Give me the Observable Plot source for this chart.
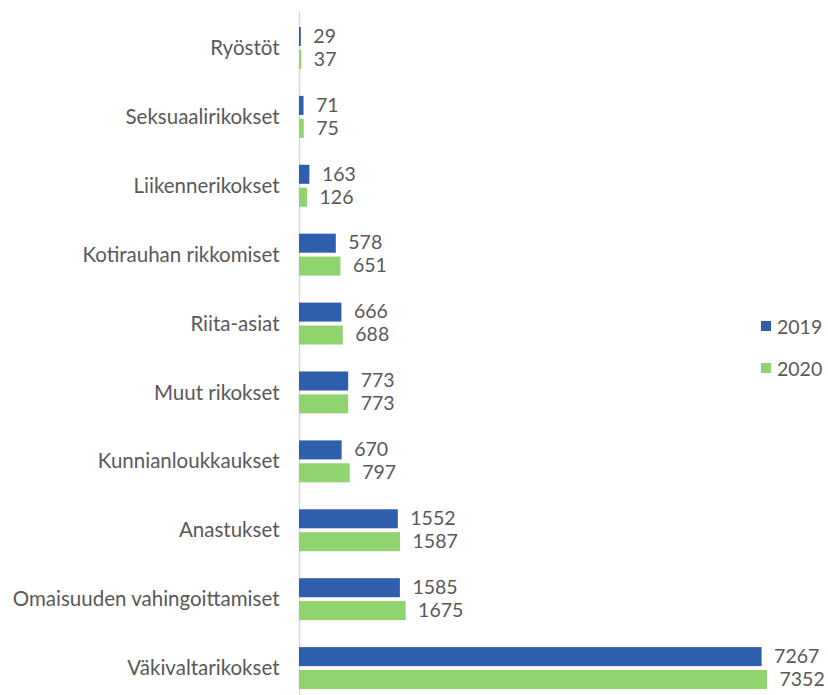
<!DOCTYPE html>
<html>
<head>
<meta charset="utf-8">
<script src="https://cdn.jsdelivr.net/npm/d3@7"></script>
<script src="https://cdn.jsdelivr.net/npm/@observablehq/plot@0.6"></script>
<style>
  html, body { margin: 0; padding: 0; background: #fff; }
  #wrap { position: relative; width: 828px; height: 695px; }
  .legend { position: absolute; left: 761px; font: 19.5px Lato, sans-serif; color: #595959; display: flex; align-items: center; height: 20px; }
  .legend span.sw { display: inline-block; width: 10px; height: 10px; margin-right: 6px; }
</style>
</head>
<body>
<div id="wrap"></div>
<script>
const categories = ["Ryöstöt", "Seksuaalirikokset", "Liikennerikokset", "Kotirauhan rikkomiset", "Riita-asiat", "Muut rikokset", "Kunnianloukkaukset", "Anastukset", "Omaisuuden vahingoittamiset", "Väkivaltarikokset"];
const values2019 = [29, 71, 163, 578, 666, 773, 670, 1552, 1585, 7267];
const values2020 = [37, 75, 126, 651, 688, 773, 797, 1587, 1675, 7352];
const seriesNames = ["2019", "2020"];
const colors = ["#2f5fac", "#8fd46f"];

const data = categories.map((c, i) => ({cat: c, v19: values2019[i], v20: values2020[i]}));

const chart = Plot.plot({
  width: 828,
  height: 695,
  marginLeft: 299,
  marginRight: 61,
  marginTop: 12,
  marginBottom: 0,
  style: {fontFamily: "Lato, sans-serif", fontSize: "20.5px", color: "#595959", background: "#fff"},
  x: {domain: [0, 7352], axis: null},
  y: {domain: categories, range: [13.5, 702.5], padding: 0, round: false, tickSize: 0, tickPadding: 20, label: null},
  marks: [
    Plot.ruleX([0], {stroke: "#d9d9d9", strokeWidth: 1.5}),
    Plot.barX(data, {x: "v19", y: "cat", fill: colors[0], insetTop: 13.5, insetBottom: 36.4}),
    Plot.barX(data, {x: "v20", y: "cat", fill: colors[1], insetTop: 36.4, insetBottom: 13.5}),
    Plot.text(data, {x: "v19", y: "cat", text: d => String(d.v19), dx: 12, dy: -12, fontSize: 19.5, textAnchor: "start", fill: "#595959"}),
    Plot.text(data, {x: "v20", y: "cat", text: d => String(d.v20), dx: 12, dy: 11, fontSize: 19.5, textAnchor: "start", fill: "#595959"})
  ]
});
const wrap = document.getElementById("wrap");
wrap.appendChild(chart);
const tops = [316, 358];
seriesNames.forEach((n, i) => {
  const d = document.createElement("div");
  d.className = "legend";
  d.style.top = tops[i] + "px";
  d.innerHTML = `<span class="sw" style="background:${colors[i]}"></span>${n}`;
  wrap.appendChild(d);
});
</script>
</body>
</html>
